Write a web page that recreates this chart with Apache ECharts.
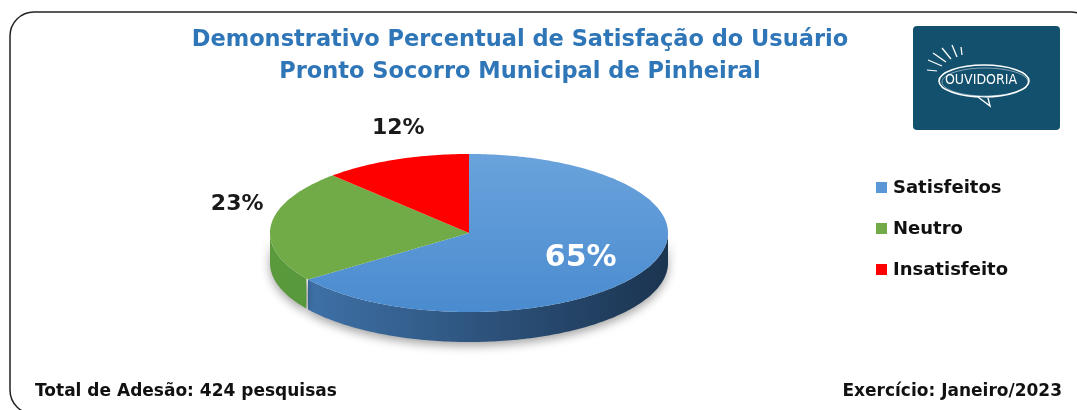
<!DOCTYPE html>
<html>
<head>
<meta charset="utf-8">
<script src="https://cdn.jsdelivr.net/npm/echarts@6/dist/echarts.min.js"></script>
<style>
  html, body { margin: 0; padding: 0; background: #fff; }
  #main { width: 1077px; height: 410px; }
</style>
</head>
<body>
<div id="main"></div>
<script>
// dados do grafico
var categorias = ['Satisfeitos', 'Neutro', 'Insatisfeito'];
var percentuais = [65, 23, 12];
var titulo = ['Demonstrativo Percentual de Satisfação do Usuário', 'Pronto Socorro Municipal de Pinheiral'];
var rodape = ['Total de Adesão: 424 pesquisas', 'Exercício: Janeiro/2023'];

var corTopo = ['#5b97d6', '#70ab47', '#ff0000'];
var corLado = [['#4277b0', '#1b3450'], ['#5a9a3d', '#4a8230'], ['#c00000', '#900000']];

// elipse da pizza
var cx = 469, cy = 233, rx = 199, ry = 79, prof = 30;
var fonte = '"DejaVu Sans", sans-serif';

// angulos (graus) - comeca no topo e gira no sentido horario
var total = percentuais.reduce(function (a, b) { return a + b; }, 0);
var angulos = [];
var ini = 90;
for (var i = 0; i < percentuais.length; i++) {
    var fim = ini - percentuais[i] / total * 360;
    angulos.push([fim, ini]);
    ini = fim;
}

function pt(a, dy) {
    var r = a * Math.PI / 180;
    return [cx + rx * Math.cos(r), cy - ry * Math.sin(r) + (dy || 0)];
}

function renderItem(params, api) {
    var idx = params.dataIndex;
    var a0 = angulos[idx][0], a1 = angulos[idx][1];
    var filhos = [];

    // lateral (somente a parte da frente)
    var arco = [];
    for (var a = a0; a <= a1 + 0.001; a += 1) {
        var aa = Math.min(a, a1);
        var s = Math.sin(aa * Math.PI / 180);
        if (s <= 0.0001) arco.push(aa);
    }
    if (arco.length > 1) {
        var pts = [];
        arco.forEach(function (a) { pts.push(pt(a, 0)); });
        for (var k = arco.length - 1; k >= 0; k--) pts.push(pt(arco[k], prof));
        filhos.push({
            type: 'polygon',
            shape: { points: pts },
            style: {
                fill: new echarts.graphic.LinearGradient(cx - rx, 0, cx + rx, 0, [
                    { offset: 0, color: corLado[idx][0] },
                    { offset: 1, color: corLado[idx][1] }
                ], true),
                shadowBlur: 10,
                shadowColor: 'rgba(0,0,0,0.35)',
                shadowOffsetY: 4
            }
        });
    }

    // topo
    var topo = [[cx, cy]];
    for (var b = a0; b <= a1 + 0.001; b += 1) topo.push(pt(Math.min(b, a1), 0));
    topo.push(pt(a1, 0));
    var fillTopo = idx === 0 ? new echarts.graphic.LinearGradient(0, cy - ry, 0, cy + ry, [
        { offset: 0, color: '#6aa3dc' },
        { offset: 1, color: '#4a8bcf' }
    ], true) : corTopo[idx];
    filhos.push({ type: 'polygon', shape: { points: topo }, style: { fill: fillTopo } });

    // rotulo
    var meio = (a0 + a1) / 2 * Math.PI / 180;
    var c = Math.cos(meio), sn = Math.sin(meio);
    var lx, ly, cor, tam;
    if (percentuais[idx] / total > 0.5) {
        lx = cx + rx * 0.63 * c;
        ly = cy - ry * 0.7 * sn;
        cor = '#fff'; tam = 30;
    } else {
        lx = cx + rx * 1.17 * c + (sn > 0.5 ? 15 : 0);
        ly = cy - (ry + 12) * sn - 20;
        cor = '#1a1a1a'; tam = 22;
    }
    filhos.push({
        type: 'text',
        style: {
            text: percentuais[idx] + '%',
            x: lx, y: ly,
            fill: cor,
            fontSize: tam,
            fontWeight: 'bold',
            fontFamily: fonte,
            align: 'center',
            verticalAlign: 'middle'
        }
    });
    return { type: 'group', children: filhos };
}

var graficos = [];
// moldura
graficos.push({
    type: 'rect', z: 0,
    shape: { x: 10, y: 12, width: 1085, height: 402, r: 24 },
    style: { fill: 'none', stroke: '#222', lineWidth: 1.5 }
});
// titulo
titulo.forEach(function (t, i) {
    graficos.push({
        type: 'text',
        style: {
            text: t, x: 520, y: 40 + i * 32,
            fill: '#2f76b8', fontSize: 22.5, fontWeight: 'bold', fontFamily: fonte,
            align: 'center', verticalAlign: 'middle'
        }
    });
});
// legenda
categorias.forEach(function (nome, i) {
    graficos.push({
        type: 'rect',
        shape: { x: 876, y: 182 + i * 41, width: 11, height: 11 },
        style: { fill: corTopo[i] }
    });
    graficos.push({
        type: 'text',
        style: {
            text: nome, x: 893, y: 188 + i * 41,
            fill: '#111', fontSize: 18, fontWeight: 'bold', fontFamily: fonte,
            verticalAlign: 'middle'
        }
    });
});
// rodape
graficos.push({
    type: 'text',
    style: { text: rodape[0], x: 35, y: 392, fill: '#111', fontSize: 17, fontWeight: 'bold', fontFamily: fonte, verticalAlign: 'middle' }
});
graficos.push({
    type: 'text',
    style: { text: rodape[1], x: 1062, y: 392, fill: '#111', fontSize: 17, fontWeight: 'bold', fontFamily: fonte, align: 'right', verticalAlign: 'middle' }
});
// logo ouvidoria
var logo = [
    { type: 'rect', shape: { x: 913, y: 26, width: 147, height: 104, r: 4 }, style: { fill: '#12506e' } },
    { type: 'ellipse', shape: { cx: 984, cy: 81, rx: 45, ry: 16 }, style: { fill: 'none', stroke: '#fff', lineWidth: 1.6 } },
    { type: 'ellipse', shape: { cx: 985, cy: 82, rx: 43, ry: 14 }, style: { fill: 'none', stroke: 'rgba(255,255,255,0.6)', lineWidth: 0.8 } },
    { type: 'polyline', shape: { points: [[978, 97], [990, 106], [988, 98]] }, style: { stroke: '#fff', lineWidth: 1.4, fill: '#12506e' } },
    { type: 'line', shape: { x1: 928, y1: 60, x2: 942, y2: 66 }, style: { stroke: '#fff', lineWidth: 1.3 } },
    { type: 'line', shape: { x1: 933, y1: 53, x2: 946, y2: 62 }, style: { stroke: '#fff', lineWidth: 1.3 } },
    { type: 'line', shape: { x1: 942, y1: 48, x2: 951, y2: 59 }, style: { stroke: '#fff', lineWidth: 1.3 } },
    { type: 'line', shape: { x1: 952, y1: 45, x2: 957, y2: 57 }, style: { stroke: '#fff', lineWidth: 1.3 } },
    { type: 'line', shape: { x1: 961, y1: 47, x2: 962, y2: 55 }, style: { stroke: '#fff', lineWidth: 1.3 } },
    { type: 'line', shape: { x1: 927, y1: 70, x2: 937, y2: 71 }, style: { stroke: '#fff', lineWidth: 1.2 } },
    {
        type: 'text',
        style: {
            text: 'OUVIDORIA', x: 981, y: 80, fill: '#fff', fontSize: 14,
            fontFamily: '"DejaVu Sans Condensed", "DejaVu Sans", sans-serif',
            align: 'center', verticalAlign: 'middle'
        }
    }
];
graficos = graficos.concat(logo);

var chart = echarts.init(document.getElementById('main'), null, { renderer: 'canvas' });
chart.setOption({
    animation: false,
    graphic: graficos,
    series: [{
        type: 'custom',
        coordinateSystem: 'none',
        renderItem: renderItem,
        data: percentuais.map(function (v, i) { return { name: categorias[i], value: v }; })
    }]
});
window.addEventListener('resize', function () { chart.resize(); });
</script>
</body>
</html>
